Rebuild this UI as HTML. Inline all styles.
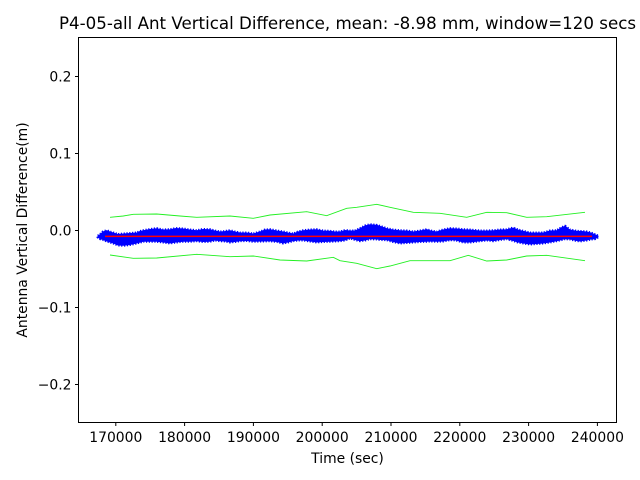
<!DOCTYPE html>
<html><head><meta charset="utf-8"><style>
html,body{margin:0;padding:0;background:#fff;}
svg{display:block;}
text{font-family:"DejaVu Sans","Liberation Sans",sans-serif;fill:#000;}
</style></head><body>
<svg width="640" height="480" viewBox="0 0 640 480" xmlns="http://www.w3.org/2000/svg">
<defs>
<polygon id="band" points="98,236 100,234.7 103,232 106.7,230.7 110,232 113.3,233 118,234.5 123.3,234 130,233.5 136.7,233 140,231.5 143.3,230.7 150,229.5 156.7,228.7 163,230 170,229.7 176,228.5 183.3,229 190,230 196.7,230.7 203,229.5 210,229.7 215,231 220,232 225,231.5 230,230.7 235,232 240,233 247,233 253.3,234 260,232 265,230 270,229.7 277,231 283.3,232 288,233 293.3,234 298,232 303.3,230.7 310,230 316.7,229.7 323,231 330,231.3 335,232 340,232 345,230.5 350,231 355,231 360,228.7 365,226 370,224.7 376.7,225.3 382,227 386.7,228.7 393,230 400,230.7 407,231 413.3,232 420,231 426.7,229.7 431,231 436.7,232 443,230 450,228.7 457,229 463.3,229.7 470,230 480,231 487,231 493.3,230.7 500,230 506.7,229.7 513.3,228 518,230 523.3,231.3 530,233 537,233 543.3,233 550,231 556.7,230.7 561,228 565,226.3 570,230 576.7,231.3 582,231.5 586.7,232 591,233 595,234.7 598,236 598,237 595,238.7 591,239 586.7,240 580,241 576.7,240.5 570,239 565,238.7 560,240 556.7,240.7 550,242 543.3,243 537,243.5 530,244 523.3,243 518,242 513.3,240.5 506.7,238.7 500,239.5 493.3,240.7 487,240 480,240.7 470,242 463.3,242 456,240 450,239.7 443,241 436.7,241.3 430,241 426.7,241.3 420,241.5 413.3,242 407,242.5 400,243 393,241.5 386.7,239.7 380,239.5 376.7,239 370,238.7 365,240 360,240.7 355,239.5 350,238 345,240 340,240.7 335,241 330,241.3 323,241.5 316.7,242 310,241 303.3,240 298,240 293.3,240.7 288,242 283.3,243 277,241.5 270,240.7 263,241 253.3,241.3 247,240.5 240,240.7 235,241.5 230,242 225,241 220,240.7 215,240 210,241.3 203,241.5 196.7,240.7 190,241.3 183.3,241.3 176,242 170,243 163,242 156.7,241.3 150,241.3 143.3,241.3 136.7,243 130,244.5 123.3,245.3 118,245 113.3,243 106.7,241 103,239.5 100,238.7 98,237"/>
</defs>
<rect width="640" height="480" fill="#fff"/>
<text x="347.5" y="29" font-size="16.67" text-anchor="middle">P4-05-all Ant Vertical Difference, mean: -8.98 mm, window=120 secs</text>

<!-- green envelopes -->
<polyline fill="none" stroke="#22f022" stroke-width="0.9" points="110,217.3 123.3,216 133.3,214.3 156.7,214 180,216 196.7,217.3 230,216 253.3,218.3 270,215 306.7,211.7 326.7,215.7 346.7,208.3 356.7,207.3 376.7,204.3 390,207.3 413.3,212.3 440,213.3 466.7,217.3 486.7,212.3 506.7,212.7 526.7,217.3 546.7,216.7 585,212.3"/>
<polyline fill="none" stroke="#22f022" stroke-width="0.9" points="110,255 133.3,258.3 156.7,258 196.7,254.3 230,256.7 253.3,256 280,260 306.7,261 333.3,257.3 340,260.7 356.7,263.3 376.7,268.7 390,266 410,260.7 450,260.7 468.3,255.3 486.7,261 506.7,260 526.7,256 546.7,255.3 585,260.7"/>

<!-- blue band -->
<use href="#band" fill="#0000ff" stroke="#0000ff" stroke-width="1"/>
<use href="#band" fill="none" stroke="#0000ff" stroke-width="3" stroke-dasharray="1.2 1.6"/>

<!-- red mean line -->
<line x1="105" y1="236.4" x2="592" y2="236.4" stroke="#ff0000" stroke-width="1.5"/>

<!-- axes frame -->
<rect x="78.5" y="37.5" width="538" height="385" fill="none" stroke="#000" stroke-width="1"/>

<!-- y ticks -->
<g stroke="#000" stroke-width="1">
<line x1="75" y1="76.5" x2="78.5" y2="76.5"/>
<line x1="75" y1="153.5" x2="78.5" y2="153.5"/>
<line x1="75" y1="230.5" x2="78.5" y2="230.5"/>
<line x1="75" y1="307.5" x2="78.5" y2="307.5"/>
<line x1="75" y1="384.5" x2="78.5" y2="384.5"/>
</g>
<g font-size="13.9" text-anchor="end">
<text x="71.5" y="81.5">0.2</text>
<text x="71.5" y="158.5">0.1</text>
<text x="71.5" y="235.5">0.0</text>
<text x="71.5" y="312.5">−0.1</text>
<text x="71.5" y="389.5">−0.2</text>
</g>

<!-- x ticks -->
<g stroke="#000" stroke-width="1">
<line x1="115.8" y1="422.5" x2="115.8" y2="426"/>
<line x1="184.6" y1="422.5" x2="184.6" y2="426"/>
<line x1="253.4" y1="422.5" x2="253.4" y2="426"/>
<line x1="322.2" y1="422.5" x2="322.2" y2="426"/>
<line x1="391" y1="422.5" x2="391" y2="426"/>
<line x1="459.8" y1="422.5" x2="459.8" y2="426"/>
<line x1="528.6" y1="422.5" x2="528.6" y2="426"/>
<line x1="597.4" y1="422.5" x2="597.4" y2="426"/>
</g>
<g font-size="13.9" text-anchor="middle">
<text x="115.8" y="442">170000</text>
<text x="184.6" y="442">180000</text>
<text x="253.4" y="442">190000</text>
<text x="322.2" y="442">200000</text>
<text x="391" y="442">210000</text>
<text x="459.8" y="442">220000</text>
<text x="528.6" y="442">230000</text>
<text x="597.4" y="442">240000</text>
</g>

<text x="347.5" y="463" font-size="13.9" text-anchor="middle">Time (sec)</text>
<text x="0" y="0" font-size="13.9" text-anchor="middle" transform="translate(27,230) rotate(-90)">Antenna Vertical Difference(m)</text>
</svg>
</body></html>
